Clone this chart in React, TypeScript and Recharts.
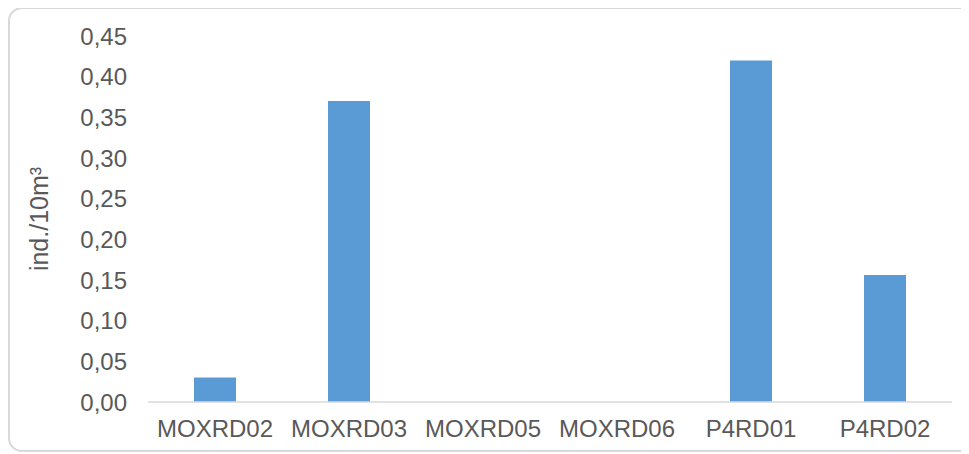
import React from "react";
import { BarChart, Bar, XAxis, YAxis } from "recharts";

// sampling stations and densities (ind./10m³)
const stations = ["MOXRD02", "MOXRD03", "MOXRD05", "MOXRD06", "P4RD01", "P4RD02"];
const density = [0.03, 0.37, 0, 0, 0.42, 0.156];
const yTicks = [0, 0.05, 0.1, 0.15, 0.2, 0.25, 0.3, 0.35, 0.4, 0.45];

const data = stations.map((name, i) => ({ name, value: density[i] }));

const FONT = "'Liberation Sans', Arial, sans-serif";
const TEXT = "#595959";
const AXIS = "#d9d9d9";

function YTitle({ viewBox }: any) {
  const cx = 39;
  const cy = viewBox.y + viewBox.height / 2;
  return (
    <text
      x={cx}
      y={cy}
      transform={`rotate(-90 ${cx} ${cy})`}
      textAnchor="middle"
      dominantBaseline="central"
      fill={TEXT}
      fontSize={25}
      fontFamily={FONT}
    >
      ind./10m³
    </text>
  );
}

export default function App() {
  return (
    <div
      style={{
        position: "relative",
        width: 961,
        height: 446,
        marginTop: -1,
        overflow: "hidden",
      }}
    >
      <div
        style={{
          position: "absolute",
          left: 0,
          top: 0,
          width: 975,
          height: 445,
          boxSizing: "border-box",
          border: `2px solid ${AXIS}`,
          borderRadius: 14,
        }}
      />
      <div style={{ position: "absolute", left: -8, top: -7 }}>
        <BarChart
          width={969}
          height={454}
          data={data}
          margin={{ top: 36, right: 17, bottom: 22, left: 0 }}
        >
          <XAxis
            dataKey="name"
            height={30}
            axisLine={{ stroke: AXIS, strokeWidth: 1.5 }}
            tickLine={false}
            tickMargin={12}
            tick={{ fill: TEXT, fontSize: 24, fontFamily: FONT }}
            interval={0}
          />
          <YAxis
            width={148}
            domain={[0, 0.45]}
            ticks={yTicks}
            interval={0}
            axisLine={false}
            tickLine={false}
            tickMargin={15}
            tickFormatter={(v: number) => v.toFixed(2).replace(".", ",")}
            tick={{ fill: TEXT, fontSize: 24, fontFamily: FONT }}
            label={{ content: YTitle } as any}
          />
          <Bar dataKey="value" fill="#5b9bd5" barSize={42} isAnimationActive={false} />
        </BarChart>
      </div>
    </div>
  );
}
